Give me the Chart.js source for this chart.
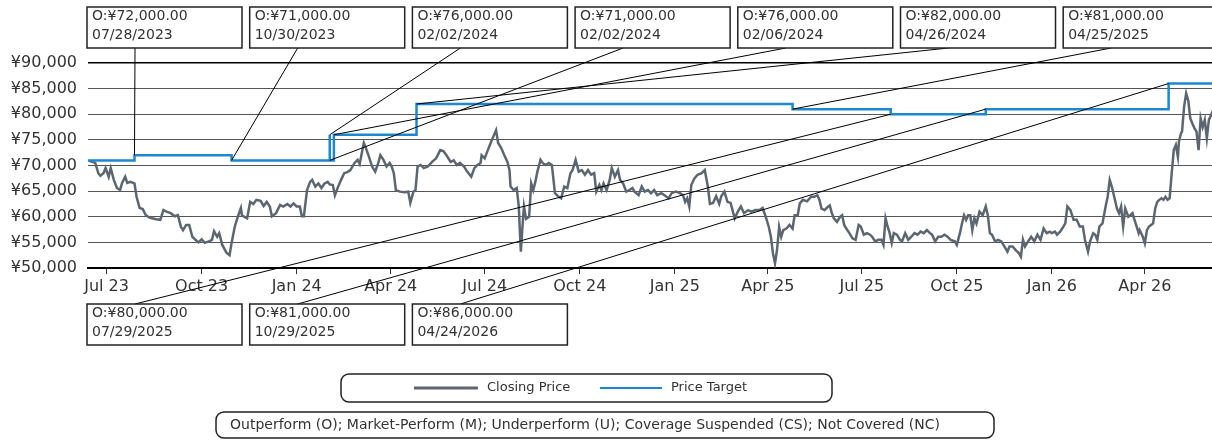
<!DOCTYPE html>
<html>
<head>
<meta charset="utf-8">
<script src="https://cdn.jsdelivr.net/npm/chart.js@4.4.1/dist/chart.umd.min.js"></script>
<style>
  html, body { margin: 0; padding: 0; background: #fff; overflow: hidden; }
  canvas { display: block; }
</style>
</head>
<body>
<canvas id="chart" width="1212" height="440"></canvas>
<script>
// day 0 = 1 Jul 2023, x values below are days from that date
const startDate = Date.UTC(2023, 6, 1);

const quarterLabels = ['Jul 23', 'Oct 23', 'Jan 24', 'Apr 24', 'Jul 24', 'Oct 24', 'Jan 25', 'Apr 25', 'Jul 25', 'Oct 25', 'Jan 26', 'Apr 26'];
const quarterDates = ['07/01/2023', '10/01/2023', '01/01/2024', '04/01/2024', '07/01/2024', '10/01/2024', '01/01/2025', '04/01/2025', '07/01/2025', '10/01/2025', '01/01/2026', '04/01/2026'];

const ratingCodes = ['O', 'O', 'O', 'O', 'O', 'O', 'O', 'O', 'O', 'O'];
const ratingDates = ['07/28/2023', '10/30/2023', '02/02/2024', '02/02/2024', '02/06/2024', '04/26/2024', '04/25/2025', '07/29/2025', '10/29/2025', '04/24/2026'];
const ratingTargets = [72000, 71000, 76000, 71000, 76000, 82000, 81000, 80000, 81000, 86000];
const initialTarget = 71000;

const closeDays = [
  -17, -11, -8, -6, -3, -1, 2, 4, 7, 10, 13, 15, 18, 20, 23, 27, 29, 32, 35, 38, 41, 44, 48, 52, 55, 58, 62, 66, 69, 72,
  74, 77, 80, 83, 86, 89, 92, 95, 99, 102, 104, 107, 109, 112, 116, 119, 121, 124, 127, 130, 131, 134, 136, 139, 142, 145, 149, 152, 155, 158,
  160, 164, 168, 171, 175, 178, 181, 184, 187, 189, 191, 194, 197, 199, 202, 205, 208, 211, 214, 216, 219, 221, 224, 227, 230, 233, 236, 240, 243, 245,
  247, 249, 251, 254, 257, 260, 263, 265, 268, 271, 274, 276, 278, 280, 284, 288, 292, 294, 297, 299, 301, 304, 307, 311, 315, 319, 323, 326, 329, 333,
  336, 339, 342, 346, 349, 353, 356, 359, 362, 363, 366, 369, 371, 373, 377, 379, 382, 385, 388, 390, 391, 394, 397, 399, 400, 401, 403, 404, 406, 409,
  411, 413, 415, 417, 420, 422, 425, 428, 431, 434, 437, 440, 443, 446, 449, 451, 454, 457, 460, 463, 466, 469, 472, 474, 477, 479, 481, 484, 487, 489,
  492, 495, 497, 500, 503, 506, 509, 511, 515, 518, 521, 524, 527, 530, 533, 537, 540, 544, 547, 551, 555, 558, 560, 562, 564, 566, 569, 572, 576, 579,
  582, 584, 587, 590, 593, 595, 598, 601, 604, 608, 611, 614, 617, 621, 624, 628, 632, 635, 638, 641, 643, 645, 647, 649, 651, 653, 655, 658, 661, 664,
  666, 669, 671, 674, 678, 682, 685, 688, 690, 692, 695, 698, 700, 702, 704, 707, 710, 712, 714, 716, 719, 722, 725, 728, 730, 733, 736, 739, 741, 744,
  747, 750, 752, 754, 756, 758, 760, 762, 765, 768, 770, 773, 776, 779, 782, 785, 788, 791, 794, 797, 799, 802, 805, 808, 811, 814, 817, 821, 823, 826,
  828, 830, 832, 834, 836, 838, 840, 842, 845, 848, 851, 853, 855, 857, 860, 863, 866, 869, 872, 874, 877, 880, 883, 885, 887, 889, 892, 895, 898, 901,
  904, 907, 910, 913, 915, 918, 920, 923, 925, 928, 930, 933, 936, 939, 942, 945, 947, 950, 952, 955, 957, 959, 961, 964, 967, 969, 971, 973, 975, 978,
  980, 982, 984, 986, 989, 991, 993, 995, 997, 999, 1000, 1003, 1005, 1007, 1009, 1011, 1013, 1015, 1017, 1019, 1021, 1023, 1025, 1027, 1029, 1031, 1033, 1035, 1037, 1038,
  1040, 1041, 1043, 1045, 1047, 1049, 1051, 1053, 1055, 1057, 1059, 1061, 1063, 1065, 1067, 1069, 1071
];
const closePrices = [
  70900, 70500, 68500, 68000, 68500, 69500, 67800, 69500, 67200, 65600, 65200, 66600, 67800, 66600, 66800, 66500, 63900, 61700, 61500, 60300, 59900, 59700, 59500, 59400, 61300, 61000, 60700, 60100, 60300, 58000,
  57400, 58400, 58400, 56100, 55500, 55000, 55600, 54900, 55200, 55500, 57200, 56100, 56800, 54500, 53000, 52500, 54900, 58000, 60000, 61700, 60300, 59900, 59700, 62900, 62500, 63300, 63100, 62100, 62900, 62000,
  60100, 60700, 62300, 62000, 62500, 62000, 62600, 62000, 62000, 60100, 60100, 65200, 66800, 67200, 65900, 66500, 65600, 66500, 66800, 66300, 66200, 64200, 65800, 67200, 68500, 68700, 69100, 70500, 71100, 70300,
  72400, 74400, 73400, 71700, 69800, 68800, 70500, 72000, 71100, 69800, 70500, 69800, 68500, 65200, 64900, 64800, 64900, 62700, 64900, 65200, 69800, 70100, 69500, 69800, 70700, 71400, 73000, 72800, 72000, 70700,
  71000, 70100, 70500, 69800, 68800, 67800, 69500, 70100, 70500, 72000, 71400, 73000, 74000, 75000, 76900, 74400, 73400, 72000, 70700, 69100, 65900, 65200, 65600, 62000, 57400, 53200, 59400, 62000, 59600, 60000,
  66500, 65200, 66800, 68800, 71100, 70500, 70100, 70500, 70100, 64600, 64000, 63600, 65900, 65600, 68500, 69100, 71100, 68800, 69100, 68200, 69100, 68200, 68500, 64900, 66200, 65200, 66500, 65200, 67200, 69500,
  67800, 69100, 67200, 66500, 64900, 65200, 65600, 64900, 64200, 65900, 64900, 65200, 64600, 65200, 64200, 64600, 64200, 63600, 64600, 64900, 64600, 64200, 62900, 63600, 62000, 66200, 67500, 68200, 68500, 69100,
  65900, 62500, 62700, 64000, 62500, 64000, 64900, 62900, 62700, 59700, 61000, 62000, 60700, 61300, 61000, 61300, 61300, 61700, 60000, 58000, 56100, 52900, 50900, 53600, 58000, 56100, 57400, 57700, 58400, 57700,
  60300, 60300, 62600, 63300, 63000, 63900, 63900, 64200, 63300, 61600, 61300, 61900, 62200, 60700, 59700, 59000, 60000, 60300, 58400, 57700, 56800, 55800, 55500, 58400, 58100, 56500, 56800, 56500, 56100, 55200,
  55500, 55500, 54500, 59700, 58100, 56800, 54900, 56800, 56500, 55500, 55200, 56800, 55500, 56100, 56800, 56500, 57100, 56800, 57400, 56800, 56500, 55200, 56100, 56100, 56500, 56100, 55500, 55200, 54500, 56800,
  58700, 60300, 59400, 60300, 60300, 57400, 59700, 58700, 61000, 60300, 62000, 60300, 56800, 56500, 55200, 55500, 55200, 54200, 53200, 54200, 54200, 53500, 52900, 52200, 55500, 54200, 55200, 56100, 55200, 56500,
  55500, 57700, 56800, 57100, 56800, 57100, 56500, 57100, 57700, 58700, 62000, 61300, 59400, 59400, 58100, 58100, 55500, 53200, 55200, 56800, 56500, 55500, 58100, 58700, 62000, 63900, 67200, 65900, 64200, 61600,
  60700, 62000, 58100, 61600, 60000, 60300, 60700, 59400, 58100, 56800, 57400, 56100, 54800, 57400, 58100, 58400, 58700, 61600, 62900, 63300, 63600, 63300, 63900, 63300, 63600, 68500, 73000, 74000, 71700, 74700,
  76300, 76600, 81500, 84100, 82700, 79200, 78200, 77300, 76600, 73000, 79200, 77500, 78900, 75300, 78900, 79800, 80800
];

const xMin = -18, xMax = 1070;

function dayOf(s) {
  const [m, d, y] = s.split('/').map(Number);
  return (Date.UTC(y, m - 1, d) - startDate) / 864e5;
}
function yen(v, dec) {
  return '¥' + v.toLocaleString('en-US', { minimumFractionDigits: dec, maximumFractionDigits: dec });
}

const closeData = closeDays.map((d, i) => ({ x: d, y: closePrices[i] }));
const targetData = [{ x: xMin, y: initialTarget }];
ratingDates.forEach((d, i) => targetData.push({ x: dayOf(d), y: ratingTargets[i] }));
targetData.push({ x: xMax, y: ratingTargets[ratingTargets.length - 1] });

const closeColor = '#5b6671';
const targetColor = '#1b88d0';

// rating boxes, leader lines and the two legend boxes
const overlay = {
  id: 'overlay',
  afterDraw(chart) {
    const ctx = chart.ctx;
    const xs = chart.scales.x, ys = chart.scales.y;
    const boxW = 155, boxH = 41, gap = 162.7;
    const boxes = ratingDates.map((d, i) => {
      const top = i < 7;
      const col = top ? i : i - 7;
      return { left: 87 + col * gap, top: top ? 7 : 304, up: top, i };
    });

    ctx.save();
    // leader lines
    ctx.strokeStyle = '#000';
    ctx.lineWidth = 1;
    boxes.forEach(b => {
      const ax = b.left + 48;
      const ay = b.up ? b.top + boxH : b.top;
      ctx.beginPath();
      ctx.moveTo(ax, ay);
      ctx.lineTo(xs.getPixelForValue(dayOf(ratingDates[b.i])), ys.getPixelForValue(ratingTargets[b.i]));
      ctx.stroke();
    });
    // boxes
    ctx.font = '14px "DejaVu Sans"';
    ctx.textBaseline = 'middle';
    boxes.forEach(b => {
      ctx.fillStyle = '#fff';
      ctx.fillRect(b.left, b.top, boxW, boxH);
      ctx.lineWidth = 1.5;
      ctx.strokeStyle = '#222';
      ctx.strokeRect(b.left, b.top, boxW, boxH);
      ctx.fillStyle = '#333';
      ctx.fillText(ratingCodes[b.i] + ':' + yen(ratingTargets[b.i], 2), b.left + 5, b.top + 9.5);
      ctx.fillText(ratingDates[b.i], b.left + 5, b.top + 28);
    });

    // series legend
    ctx.lineWidth = 1.5;
    ctx.strokeStyle = '#222';
    ctx.beginPath();
    ctx.roundRect(341, 374, 491, 28, 8);
    ctx.stroke();
    ctx.font = '13px "DejaVu Sans"';
    ctx.lineWidth = 3;
    ctx.strokeStyle = closeColor;
    ctx.beginPath(); ctx.moveTo(414, 388); ctx.lineTo(478, 388); ctx.stroke();
    ctx.lineWidth = 2;
    ctx.strokeStyle = targetColor;
    ctx.beginPath(); ctx.moveTo(600, 388); ctx.lineTo(662, 388); ctx.stroke();
    ctx.fillStyle = '#333';
    ctx.fillText('Closing Price', 487, 388);
    ctx.fillText('Price Target', 671, 388);

    // rating key
    ctx.lineWidth = 1.5;
    ctx.strokeStyle = '#222';
    ctx.beginPath();
    ctx.roundRect(216, 412, 778, 26, 8);
    ctx.stroke();
    ctx.font = '14px "DejaVu Sans"';
    ctx.fillText('Outperform (O); Market-Perform (M); Underperform (U); Coverage Suspended (CS); Not Covered (NC)', 230, 425);
    ctx.restore();
  }
};

Chart.defaults.font.family = '"DejaVu Sans", sans-serif';

new Chart(document.getElementById('chart'), {
  type: 'line',
  data: {
    datasets: [
      { label: 'Price Target', data: targetData, borderColor: targetColor, borderWidth: 2.5, pointRadius: 0, stepped: true },
      { label: 'Closing Price', data: closeData, borderColor: closeColor, borderWidth: 2.5, pointRadius: 0, tension: 0 }
    ]
  },
  options: {
    responsive: false,
    animation: false,
    devicePixelRatio: 1,
    layout: { padding: { top: 63, left: 0, right: 0, bottom: 0 } },
    plugins: { legend: { display: false }, tooltip: { enabled: false } },
    scales: {
      x: {
        type: 'linear',
        min: xMin,
        max: xMax,
        afterBuildTicks: s => { s.ticks = quarterDates.map(d => ({ value: dayOf(d) })); },
        afterFit: s => { s.height = 172; },
        ticks: {
          autoSkip: false, maxRotation: 0, padding: 3, color: '#333',
          font: { size: 16 },
          callback: (v, i) => quarterLabels[i]
        },
        grid: { drawOnChartArea: false, drawTicks: true, tickLength: 6, color: '#333' },
        border: { color: '#000', width: 2 }
      },
      y: {
        min: 50000,
        max: 90000,
        afterFit: s => { s.width = 88; },
        ticks: {
          stepSize: 5000, padding: 11, color: '#333',
          font: { size: 16 },
          callback: v => yen(v, 0)
        },
        grid: {
          drawTicks: false,
          color: c => (c.tick && c.tick.value === 90000) ? '#000' : '#555',
          lineWidth: c => (c.tick && c.tick.value === 90000) ? 1.5 : 1
        },
        border: { display: false }
      }
    }
  },
  plugins: [overlay]
});
</script>
</body>
</html>
